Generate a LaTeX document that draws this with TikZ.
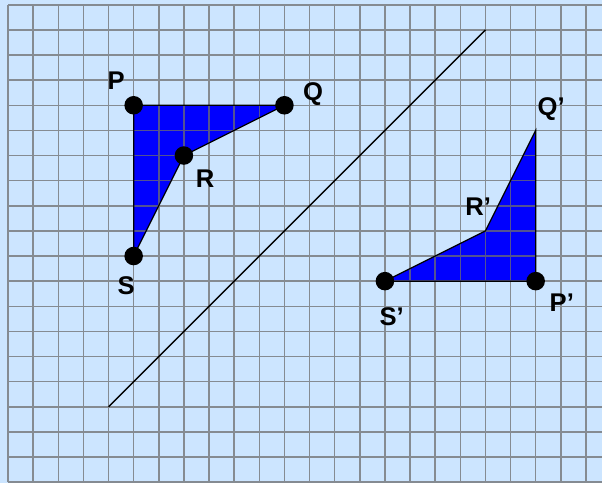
\documentclass[tikz,border=0pt]{standalone}
\usepackage{fontspec}
\setmainfont{Liberation Sans}
\usepackage{xcolor}
\usetikzlibrary{positioning}
\definecolor{paper}{RGB}{204,229,255}
\definecolor{gridgray}{RGB}{110,110,110}
\definecolor{shapeblue}{RGB}{0,0,255}
\tikzset{
  dot/.style={circle, fill=black, inner sep=0pt, minimum size=10.5pt},
  lbl/.style={inner sep=0pt, font=\fontsize{14.5}{17}\selectfont\bfseries},
  edge/.style={black, line width=0.7pt}
}

\begin{document}
\begin{tikzpicture}[x=0.5cm, y=0.5cm]
\useasboundingbox (-0.32,-0.04) rectangle (23.64,19.19);
\fill[paper] (-0.32,-0.04) rectangle (23.64,19.19);
% vertices
\coordinate (P) at (5,15);
\coordinate (Q) at (11,15);
\coordinate (R) at (7,13);
\coordinate (S) at (5,9);
\coordinate (P') at (21,8);
\coordinate (Q') at (21,14);
\coordinate (R') at (19,10);
\coordinate (S') at (15,8);
\fill[shapeblue] (P) -- (Q) -- (R) -- (S) -- cycle;
\fill[shapeblue] (P') -- (Q') -- (R') -- (S') -- cycle;
\draw[step=1, gridgray, opacity=0.75, line width=0.85pt] (0,0) grid (23.9,19);
\draw[edge] (P) -- (Q) -- (R) -- (S) -- cycle;
\draw[edge] (P') -- (Q') -- (R') -- (S') -- cycle;
% mirror line
\coordinate (m1) at (4,3);
\coordinate (m2) at (19,18);
\draw[black, line width=0.8pt] (m1) -- (m2);
\node[dot] (dP) at (P) {};
\node[dot] (dQ) at (Q) {};
\node[dot] (dR) at (R) {};
\node[dot] (dS) at (S) {};
\node[dot] (dP') at (P') {};
\node[dot] (dS') at (S') {};
\node[lbl] (lP) at (4.30,15.96) {P};
\node[lbl] (lQ) at (12.14,15.45) {Q};
\node[lbl] (lR) at (7.84,12.06) {R};
\node[lbl] (lS) at (4.70,7.80) {S};
\node[lbl] (lQ') at (21.62,14.83) {Q’};
\node[lbl] (lR') at (18.71,10.95) {R’};
\node[lbl] (lP') at (22.04,7.13) {P’};
\node[lbl] (lS') at (15.27,6.58) {S’};
\end{tikzpicture}
\end{document}
